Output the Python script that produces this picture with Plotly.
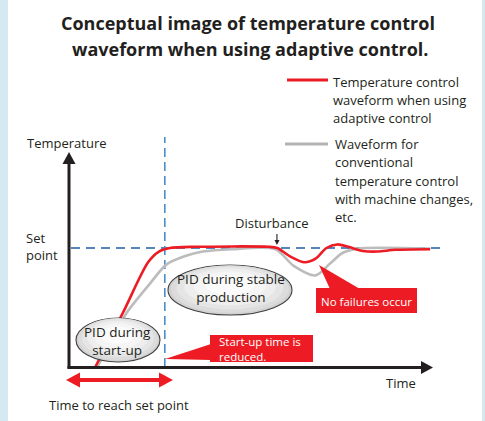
import plotly.graph_objects as go

# ---------------- data (conceptual units: time 0-100, set point = 100) ----------------
RED_T = [7.5, 15.0, 22.0, 25.0, 28.0, 35.0, 55.0, 57.5, 61.0, 65.0, 68.0, 71.0, 74.0, 77.0, 81.0, 85.0, 90.0, 99.5]
RED_TEMP = [0, 45, 88, 97, 100, 101, 101, 100, 93, 88, 91, 100, 103, 101, 97.5, 97, 98.5, 99]
GRAY_T = [8.0, 12.0, 16.0, 22.5, 27.0, 32.0, 37.0, 45.0, 57.0, 62.0, 68.0, 72.0, 75.5, 79.5, 99.5]
GRAY_TEMP = [0, 22, 45, 70, 86, 93, 97, 99, 99, 85, 77, 87, 96, 99.5, 99.5]
SET_POINT = 100
REACH_T = 26.6          # time the adaptive waveform reaches the set point
DISTURBANCE_T = 57.4    # time of the disturbance

W, H = 485, 421
RED = "#ed1c24"
GRAY = "#bcbcbc"
DARK = "#231f20"
FONT = "Open Sans"

# pixel <-> data helpers (plot area covers whole figure)
KX, KY = 3.64, 1.19
X0PX, Y0PX = 68, 367
def X(px):
    return (px - X0PX) / KX
def Y(py):
    return (Y0PX - py) / KY

fig = go.Figure()
fig.add_trace(go.Scatter(x=GRAY_T, y=GRAY_TEMP, mode="lines",
                         line=dict(color=GRAY, width=2.6, shape="spline", smoothing=0.8),
                         hoverinfo="skip", showlegend=False))
fig.add_trace(go.Scatter(x=RED_T, y=RED_TEMP, mode="lines",
                         line=dict(color=RED, width=2.6, shape="spline", smoothing=0.8),
                         hoverinfo="skip", showlegend=False))

shapes = []
# side bands
shapes.append(dict(type="rect", xref="paper", yref="paper", x0=0, x1=8 / W, y0=0, y1=1,
                   fillcolor="#d4eaf0", line=dict(width=0), layer="below"))
shapes.append(dict(type="rect", xref="paper", yref="paper", x0=482 / W, x1=1, y0=0, y1=1,
                   fillcolor="#d4eaf0", line=dict(width=0), layer="below"))
# set point dashed line
shapes.append(dict(type="line", x0=X(71), x1=X(443), y0=SET_POINT, y1=SET_POINT,
                   line=dict(color="#1f5ea8", width=1.3, dash="9px,6px"), layer="below"))
# vertical dashed line
shapes.append(dict(type="line", x0=REACH_T, x1=REACH_T, y0=0, y1=Y(137),
                   line=dict(color="#4a8fca", width=1.6, dash="9px,5px"), layer="below"))

# axes
shapes.append(dict(type="line", x0=X(69), x1=X(69), y0=Y(368.5), y1=Y(162),
                   line=dict(color=DARK, width=3), layer="above"))
shapes.append(dict(type="path", path=f"M {X(62.5)},{Y(164)} L {X(75.5)},{Y(164)} L {X(69)},{Y(152)} Z",
                   fillcolor=DARK, line=dict(width=0), layer="above"))
shapes.append(dict(type="line", x0=X(67.5), x1=X(423), y0=Y(367.5), y1=Y(367.5),
                   line=dict(color=DARK, width=3), layer="above"))
shapes.append(dict(type="path", path=f"M {X(421)},{Y(361)} L {X(421)},{Y(374)} L {X(433)},{Y(367.5)} Z",
                   fillcolor=DARK, line=dict(width=0), layer="above"))

# disturbance arrow
shapes.append(dict(type="line", x0=DISTURBANCE_T, x1=DISTURBANCE_T, y0=Y(234), y1=Y(241),
                   line=dict(color=DARK, width=1.1), layer="above"))
shapes.append(dict(type="path",
                   path=f"M {X(274.5)},{Y(240)} L {X(279.5)},{Y(240)} L {DISTURBANCE_T},{Y(245)} Z",
                   fillcolor=DARK, line=dict(width=0), layer="above"))

# legend samples
shapes.append(dict(type="line", x0=X(287), x1=X(328), y0=Y(80), y1=Y(80),
                   line=dict(color=RED, width=3), layer="above"))
shapes.append(dict(type="line", x0=X(285), x1=X(328), y0=Y(144), y1=Y(144),
                   line=dict(color="#b3b3b3", width=3), layer="above"))

# red double arrow (time to reach set point)
shapes.append(dict(type="line", x0=X(78), x1=X(161), y0=Y(380), y1=Y(380),
                   line=dict(color=RED, width=4), layer="above"))
shapes.append(dict(type="path", path=f"M {X(66)},{Y(380)} L {X(80)},{Y(372.5)} L {X(80)},{Y(387.5)} Z",
                   fillcolor=RED, line=dict(width=0), layer="above"))
shapes.append(dict(type="path", path=f"M {X(173)},{Y(380)} L {X(159)},{Y(372.5)} L {X(159)},{Y(387.5)} Z",
                   fillcolor=RED, line=dict(width=0), layer="above"))


def ellipse(cx, cy, rx, ry):
    layers = [(1.0, 0, "#d2d2d2", True), (0.95, -1.0, "#dcdcdc", False),
              (0.86, -2.0, "#e5e5e5", False), (0.74, -3.0, "#eeeeee", False),
              (0.58, -4.0, "#f5f5f5", False), (0.40, -5.0, "#fbfbfb", False)]
    for s, dy, col, outline in layers:
        shapes.append(dict(type="circle", x0=X(cx - rx * s), x1=X(cx + rx * s),
                           y0=Y(cy + dy - ry * s), y1=Y(cy + dy + ry * s),
                           fillcolor=col,
                           line=dict(color="#404040", width=1.1) if outline else dict(width=0),
                           layer="above"))


ellipse(118, 340, 42, 22)
ellipse(230, 290, 62, 25)

# callouts
shapes.append(dict(type="path", path=f"M {X(319)},{Y(265)} L {X(330)},{Y(289)} L {X(360)},{Y(289)} Z",
                   fillcolor=RED, line=dict(width=0), layer="above"))
shapes.append(dict(type="rect", x0=X(316), x1=X(417), y0=Y(313), y1=Y(288),
                   fillcolor=RED, line=dict(width=0), layer="above"))
shapes.append(dict(type="path", path=f"M {X(165)},{Y(359)} L {X(211)},{Y(344)} L {X(211)},{Y(360)} Z",
                   fillcolor=RED, line=dict(width=0), layer="above"))
shapes.append(dict(type="rect", x0=X(210), x1=X(313), y0=Y(362), y1=Y(335),
                   fillcolor=RED, line=dict(width=0), layer="above"))

annotations = []
def ann(text, px, py, size, xanchor="center", color=DARK, weight="normal", align="center"):
    annotations.append(dict(text=text, x=X(px), y=Y(py), xref="x", yref="y",
                            xanchor=xanchor, yanchor="middle", showarrow=False, align=align,
                            font=dict(family=FONT, size=size, color=color, weight=weight)))

ann("Conceptual image of temperature control", 248, 23, 18, weight="bold")
ann("waveform when using adaptive control.", 250, 49, 18, weight="bold")

for i, t in enumerate(["Temperature control", "waveform when using", "adaptive control"]):
    ann(t, 331, 82 + 18 * i, 13, xanchor="left")
for i, t in enumerate(["Waveform for", "conventional", "temperature control",
                       "with machine changes,", "etc."]):
    ann(t, 333, 144 + 18.3 * i, 13, xanchor="left")

ann("Temperature", 25, 143, 13, xanchor="left")
ann("Set", 24, 238, 13, xanchor="left")
ann("point", 24, 255, 13, xanchor="left")
ann("Disturbance", 272, 223, 13)
ann("Time", 401, 383, 13)
ann("Time to reach set point", 119, 405, 13)

ann("PID during<br>start-up", 117.5, 340.5, 13.5)
ann("PID during stable<br>production", 231, 288, 13.5)

ann("No failures occur", 366, 301, 11.5, color="white")
ann("Start-up time is<br>reduced.", 217, 349, 11.5, xanchor="left", color="white", align="left")

fig.update_layout(
    width=W, height=H, autosize=False,
    margin=dict(l=0, r=0, t=0, b=0),
    paper_bgcolor="white", plot_bgcolor="white",
    xaxis=dict(range=[X(0), X(W)], visible=False, fixedrange=True),
    yaxis=dict(range=[Y(H), Y(0)], visible=False, fixedrange=True),
    shapes=shapes, annotations=annotations, showlegend=False,
)

fig.write_html("out.html", config={"displayModeBar": False},
               post_script="document.body.style.margin='0';document.body.style.padding='0';")
